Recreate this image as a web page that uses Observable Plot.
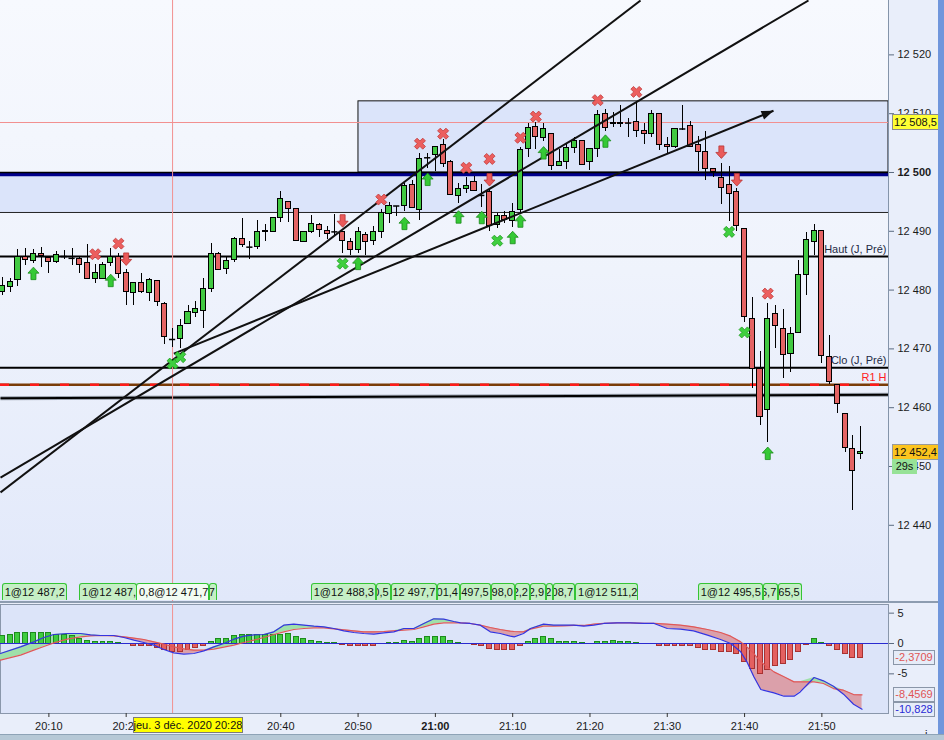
<!DOCTYPE html>
<html><head><meta charset="utf-8">
<script src="https://cdn.jsdelivr.net/npm/d3@7"></script>
<script src="https://cdn.jsdelivr.net/npm/@observablehq/plot@0.6"></script>
<style>
html,body{margin:0;padding:0;}
body{background:#e9eefa;font-family:"Liberation Sans",Arial,sans-serif;}
#root{position:relative;width:944px;height:740px;overflow:hidden;background:#e9eefa;}
#root svg{position:absolute;left:0;}
.tl{position:absolute;height:17px;box-sizing:border-box;border:1px solid #35c435;border-bottom:none;border-radius:3px 3px 0 0;background:#c5efc5;font-size:11px;line-height:16px;color:#111;overflow:hidden;white-space:nowrap;display:flex;padding:0 2px;}
.tl span{flex-shrink:0;}
.tl.tail{justify-content:flex-end;padding:0 1px;}
.tl.sel{background:#f2fcf2;}
.bx{position:absolute;box-sizing:border-box;font-size:11px;text-align:center;white-space:nowrap;overflow:hidden;}
</style></head>
<body><div id="root"></div>
<script>
// ---------------- DATA ----------------
const firstBarTime = "20:04"; // bar 0, one bar per minute
const candleOpen = [12479.6,12480.5,12481.8,12485.7,12484.9,12486.2,12485.5,12484.8,12485.7,12485.4,
 12485.3,12484.6,12481.9,12481.9,12484.6,12485.7,12482.9,12479.5,12481.2,12479.5,
 12481.5,12477.7,12471.6,12471.6,12474.3,12476.1,12476.5,12480.2,12486.2,12483.6,
 12485.2,12488.7,12487.3,12487.3,12490.1,12489.8,12492.3,12494.9,12493.8,12488.2,
 12489.9,12491.1,12490.1,12489.9,12489.9,12488.2,12486.9,12489.4,12488.4,12489.8,
 12493.0,12494.3,12494.3,12497.9,12493.7,12502.5,12503.0,12504.7,12501.7,12496.0,
 12497.2,12498.4,12496.1,12496.7,12491.1,12492.6,12491.8,12493.7,12504.0,12507.8,
 12505.9,12506.6,12501.1,12501.7,12504.2,12505.4,12501.7,12504.0,12510.0,12508.5,
 12508.5,12508.4,12508.6,12507.1,12506.6,12510.0,12504.7,12504.4,12507.4,12507.9,
 12504.7,12503.5,12500.6,12499.1,12497.9,12496.7,12490.4,12475.0,12466.6,12459.6,
 12476.0,12473.3,12469.2,12472.7,12482.6,12488.1,12490.0,12468.7,12463.9,12459.0,
 12453.0,12452.1];
const candleHigh = [12482.2,12481.9,12486.9,12487.0,12486.9,12487.2,12485.7,12486.6,12486.7,12487.0,
 12485.7,12487.8,12484.4,12484.7,12487.0,12486.2,12483.5,12481.2,12482.9,12482.0,
 12481.5,12477.9,12473.4,12475.0,12477.3,12478.1,12481.9,12488.0,12486.4,12485.5,
 12489.0,12492.1,12488.3,12491.8,12491.2,12492.3,12496.8,12494.9,12493.8,12489.9,
 12492.7,12491.3,12490.9,12492.8,12489.9,12488.7,12490.6,12489.8,12490.9,12493.7,
 12494.9,12494.3,12498.1,12498.6,12503.2,12503.2,12504.4,12505.6,12502.0,12498.1,
 12499.1,12499.3,12497.9,12497.2,12493.0,12493.4,12494.7,12504.2,12508.3,12508.5,
 12508.3,12506.6,12503.9,12504.9,12505.9,12505.4,12504.0,12510.6,12510.7,12510.2,
 12511.4,12509.1,12512.0,12508.3,12510.6,12510.0,12505.9,12507.4,12511.4,12508.6,
 12506.1,12506.9,12500.6,12501.5,12501.1,12497.2,12490.4,12478.7,12469.6,12477.7,
 12477.3,12476.7,12473.7,12485.0,12489.8,12491.2,12490.0,12472.2,12463.9,12459.0,
 12455.3,12456.8];
const candleLow = [12479.1,12479.6,12480.6,12484.2,12484.6,12483.9,12482.9,12484.5,12485.2,12484.2,
 12482.9,12481.9,12481.2,12481.8,12484.0,12481.9,12477.4,12477.3,12479.5,12478.1,
 12477.2,12470.8,12470.3,12470.0,12474.1,12475.4,12473.4,12479.6,12483.3,12482.7,
 12484.7,12487.2,12485.2,12486.9,12488.3,12489.8,12491.5,12491.5,12488.4,12488.2,
 12489.6,12489.0,12488.6,12489.3,12486.2,12485.8,12486.2,12485.9,12487.6,12488.7,
 12491.3,12492.6,12493.3,12494.0,12491.8,12500.6,12500.1,12500.8,12496.2,12494.7,
 12496.4,12496.9,12494.1,12489.9,12490.4,12491.3,12490.7,12493.0,12502.6,12503.9,
 12505.2,12500.3,12501.1,12500.5,12503.2,12501.3,12500.3,12502.6,12507.0,12507.6,
 12507.7,12506.0,12506.0,12504.7,12505.9,12503.7,12503.2,12504.0,12507.1,12504.2,
 12500.2,12498.6,12499.1,12494.5,12491.6,12489.9,12474.5,12463.2,12456.9,12454.0,
 12470.0,12464.9,12466.0,12472.7,12479.0,12485.9,12467.6,12463.9,12459.0,12452.4,
 12442.6,12451.2];
const candleClose = [12480.7,12481.4,12485.7,12485.2,12486.2,12485.8,12484.8,12485.9,12485.7,12485.4,
 12484.3,12481.9,12482.9,12484.3,12485.6,12482.7,12479.6,12481.2,12479.6,12481.8,
 12477.9,12472.0,12471.6,12473.9,12476.3,12476.7,12480.2,12486.2,12483.5,12485.0,
 12488.7,12487.7,12487.3,12489.8,12489.8,12492.3,12495.5,12493.8,12488.4,12489.9,
 12491.3,12490.3,12489.5,12489.9,12488.4,12486.9,12489.8,12488.2,12489.9,12493.1,
 12494.3,12494.3,12497.7,12494.0,12502.3,12502.5,12504.4,12501.5,12496.2,12497.2,
 12497.7,12496.9,12496.1,12490.9,12492.6,12492.0,12493.3,12503.9,12507.6,12506.1,
 12507.4,12501.1,12501.8,12504.2,12505.4,12501.3,12504.0,12509.8,12507.6,12508.2,
 12508.2,12508.4,12507.1,12506.6,12510.0,12504.7,12504.4,12507.4,12507.4,12504.4,
 12503.5,12500.6,12500.1,12497.4,12496.4,12490.9,12475.4,12466.6,12458.4,12475.1,
 12473.9,12469.0,12472.6,12482.6,12488.6,12490.0,12468.8,12464.3,12460.7,12453.2,
 12449.3,12452.4];

const xTickBars = [6,16,36,46,56,66,76,86,96,106];
const xTickLabels = ["20:10","20:20","20:40","20:50","21:00","21:10","21:20","21:30","21:40","21:50"];
const yTickValues = [12440,12450,12460,12470,12480,12490,12500,12510,12520];
const macdTickValues = [5,0,-5];

// levels (price)
const level12500 = 12500, bandBottom = 12493.2, boxTop = 12512.1, boxStartBar = 46.05;
const hautLevel = 12485.7, cloLevel = 12466.8, r1Level = 12463.9, lastClose = 12508.5;
const lowLineLeft = 12461.6, lowLineRight = 12462.2;
const levelLabels = ["Haut (J, Pré)", "Clo (J, Pré)", "R1 H"];
const levelLabelPrices = [12485.7, 12466.8, 12463.9];

// trend lines (bar, price) -> (bar, price)
const trendStartBar = [-0.26, -0.26, 22.16];
const trendStartPrice = [12445.6, 12448.1, 12469.2];
const trendEndBar = [82.54, 104.27, 99.74];
const trendEndPrice = [12529.25, 12529.25, 12510.5];

// signal markers
const redCrossBar = [12,15,49,54,57,60,63,67,69,77,82,99];
const redCrossPrice = [12486.1,12487.9,12495.4,12504.9,12506.6,12500.8,12502.3,12505.9,12509.5,12512.3,12513.7,12479.4];
const greenCrossBar = [22,23,44,64,94,96];
const greenCrossPrice = [12467.5,12468.6,12484.5,12488.4,12489.9,12472.8];
const upArrowBar = [4,14,46,52,55,59,62,66,67,70,78,99];
const upArrowPrice = [12482.8,12481.6,12484.5,12491.3,12498.8,12492.4,12492.3,12488.9,12491.7,12503.3,12505.3,12452.2];
const downArrowBar = [16,44,63,93,95];
const downArrowPrice = [12485.3,12491.8,12498.8,12503.5,12498.8];

// trade tags at bottom of price pane (visible part of each tag)
const tradeText = ["1@12 487,2","1@12 487,","0,8@12 471,7","7","1@12 488,3","0,5","12 497,7","01,4","497,5","98,0","2,2","2,9","2","08,7","1@12 511,2","1@12 495,5","6,7","65,5"];
const tradeStartBar = [-0.04,9.96,17.34,26.78,39.94,48.38,50.28,56.31,59.25,63.22,66.36,68.3,70.38,71.32,74.13,90.0,98.41,100.43];
const tradeEndBar = [8.37,17.43,26.78,27.81,48.38,50.28,56.31,59.25,63.22,66.36,68.3,70.38,71.32,74.13,82.32,98.41,100.43,103.46];
const tradeTail = [0,0,0,1,0,1,1,1,1,1,1,1,1,1,0,0,1,1];
const tradeSelected = 2;

// MACD histogram (one per bar)
const histValues = [1.2,1.37,1.76,1.81,1.81,1.81,1.65,1.48,1.37,1.21,
 0.71,0.44,0.33,0.33,0.33,0.16,-0.16,-0.33,-0.44,-0.44,
 -0.66,-0.99,-1.32,-1.37,-0.99,-0.82,-0.33,0.33,0.66,0.77,
 1.21,1.32,1.48,1.32,1.32,1.43,1.43,1.54,0.99,0.66,
 0.49,0.33,0.16,0.05,-0.22,-0.49,-0.33,-0.49,-0.33,-0.16,
 0.16,0.16,0.49,0.33,0.82,0.99,1.15,0.99,0.49,0.16,
 0,-0.22,-0.38,-0.88,-0.99,-1.15,-0.99,-0.33,0.33,0.71,
 0.99,0.66,0.33,0.33,0.33,0.16,0,0.33,0.33,0.49,
 0.33,0.33,0.16,0,0,-0.33,-0.44,-0.44,-0.44,-0.44,
 -0.66,-0.99,-1.15,-1.32,-1.48,-1.81,-3.02,-4.12,-5.05,-4.29,
 -3.74,-3.30,-2.64,-1.48,-0.22,0.82,0.16,-0.49,-1.15,-1.81,
 -2.31,-2.37];
// MACD & signal lines (bar position, value)
const macdBar = [-0.26,2.33,4.05,5.35,6.64,8.37,10.09,11.38,12.68,14.4,15.7,17.0,18.28,19.58,20.87,22.16,23.46,24.75,26.05,27.34,28.63,29.93,31.22,32.51,33.81,35.1,36.39,37.69,38.98,40.28,41.57,42.86,44.16,45.45,46.74,48.04,49.33,50.63,51.92,53.21,54.51,55.8,57.09,58.39,
 59.25,60.5,61.8,63.1,64.4,65.7,66.2,67.4,68.3,70.0,71.3,72.6,73.9,75.2,76.5,77.8,79.5,81.2,83.0,84.3,86.0,87.7,89.4,91.2,92.9,94.2,95.5,96.3,97.2,98.1,99.8,101.1,102.4,103.2,105.0,106.2,107.5,108.8,110.1,111.2];
const macdValue = [-1.65,-0.55,0.27,0.99,1.48,1.65,1.65,1.43,1.32,1.32,0.99,0.55,0.16,-0.27,-0.99,-1.54,-1.76,-1.65,-1.21,-0.55,0,0.71,1.21,1.43,1.48,1.92,3.02,3.19,3.02,2.86,2.75,2.47,2.09,1.81,1.65,1.54,1.76,1.92,2.47,2.47,3.30,4.07,4.01,3.63,
 3.41,3.30,3.02,1.92,1.65,1.21,1.10,1.65,2.47,3.19,3.02,3.02,3.02,2.86,3.02,3.30,3.41,3.41,3.30,3.30,2.47,2.36,2.09,1.37,0.66,0,-1.37,-3.02,-5.49,-7.58,-8.13,-8.68,-8.68,-7.97,-5.60,-6.15,-7.03,-8.35,-10.0,-10.828];
const signalValue = [-2.75,-1.92,-1.10,-0.49,0.11,0.71,1.10,1.26,1.32,1.26,1.10,0.88,0.66,0.27,-0.11,-0.55,-0.88,-1.10,-1.10,-0.93,-0.60,-0.27,0.16,0.55,0.99,1.48,1.92,2.31,2.47,2.58,2.58,2.42,2.25,2.09,1.92,1.92,1.98,2.09,2.20,2.31,2.75,3.19,3.41,3.41,
 3.41,3.30,3.02,2.64,2.31,2.03,1.98,1.92,2.36,2.86,2.86,2.91,2.97,2.97,3.19,3.30,3.41,3.41,3.30,3.30,3.19,3.02,2.75,2.31,1.81,1.21,0.27,-0.55,-1.65,-3.02,-4.67,-5.49,-6.32,-6.32,-6.32,-6.59,-7.42,-7.69,-8.41,-8.4569];
const macdLabels = [{v: -2.3709, t: "-2,3709", c: "#e05454"}, {v: -8.4569, t: "-8,4569", c: "#e05454"}, {v: -10.828, t: "-10,828", c: "#2a2ad6"}];

const crosshairBar = 22, crosshairLabelBar = 24, crosshairText = "jeu. 3 déc. 2020 20:28";
const currentPrice = 12452.4, countdownText = "29s";

// ---------------- CHART ----------------
const FONT = '"Liberation Sans", Arial, sans-serif';
const xLo = -0.26, xHi = 114.62, yLo = 12426.7, yHi = 12529.25, mLo = -11.53, mHi = 6.425;
const GREEN = "#41c941", RED = "#e46464";
const fmtPrice = d => { const s = d.toFixed(Number.isInteger(d) ? 0 : 1).replace(".", ","); return s.replace(/^(\d{2})(\d{3})/, "$1 $2"); };

const candles = candleOpen.map((o, i) => ({i, o, h: candleHigh[i], l: candleLow[i], c: candleClose[i]}));
const trend = trendStartBar.map((b, k) => ({i1: b, p1: trendStartPrice[k], i2: trendEndBar[k], p2: trendEndPrice[k]}));
const mk = (bars, prices) => bars.map((b, k) => ({i: b, p: prices[k]}));

function poly(pts) { return {draw(ctx) { pts.forEach(([x, y], k) => k ? ctx.lineTo(x, y) : ctx.moveTo(x, y)); ctx.closePath(); }}; }
const w = 1.9, L = 5.9;
const crossPts = [[-w,-L],[w,-L],[w,-w],[L,-w],[L,w],[w,w],[w,L],[-w,L],[-w,w],[-L,w],[-L,-w],[-w,-w]]
  .map(([x, y]) => [(x - y) * Math.SQRT1_2, (x + y) * Math.SQRT1_2]);
const crossSym = poly(crossPts);
const upPts = [[0,-6.5],[5.5,-0.5],[2.5,-0.5],[2.5,6],[-2.5,6],[-2.5,-0.5],[-5.5,-0.5]];
const upSym = poly(upPts);
const downSym = poly(upPts.map(([x, y]) => [x, -y]));
const headSym = poly([[0,0],[4.5,12],[-4.5,12]]);

// arrow head angle from the scale geometry
const pxBar = 888 / (xHi - xLo), pxPt = 603 / (yHi - yLo);
const last = trend[2];
const headAngle = Math.atan2((last.i2 - last.i1) * pxBar, (last.p2 - last.p1) * pxPt) * 180 / Math.PI;

const price = Plot.plot({
  width: 944, height: 603, marginLeft: 0, marginRight: 56, marginTop: 0, marginBottom: 0,
  x: {domain: [xLo, xHi], axis: null},
  y: {domain: [yLo, yHi], axis: null},
  style: {background: "transparent", fontFamily: FONT, fontSize: "11px", color: "#1a1a1a", overflow: "visible"},
  marks: [
    Plot.rect([0], {x1: () => xLo, x2: () => xHi, y1: () => bandBottom, y2: () => level12500, fill: "#dbe4fa"}),
    Plot.rect([0], {x1: () => boxStartBar, x2: () => xHi, y1: () => level12500, y2: () => boxTop, fill: "#dbe4fa", stroke: "#111", strokeWidth: 1}),
    Plot.ruleY([bandBottom], {stroke: "#222", strokeWidth: 1}),
    Plot.ruleY([lastClose], {stroke: "#f29090", strokeWidth: 1}),
    Plot.ruleY([hautLevel], {stroke: "#000", strokeWidth: 2}),
    Plot.ruleY([cloLevel], {stroke: "#000", strokeWidth: 2}),
    Plot.ruleY([r1Level], {stroke: "#7a3c08", strokeWidth: 2.5}),
    Plot.ruleY([r1Level], {stroke: "#ff1a1a", strokeWidth: 2.5, strokeDasharray: "9,21"}),
    Plot.link([0], {x1: () => xLo, y1: () => lowLineLeft, x2: () => xHi, y2: () => lowLineRight, stroke: "#9aa2ae", strokeWidth: 4}),
    Plot.link([0], {x1: () => xLo, y1: () => lowLineLeft, x2: () => xHi, y2: () => lowLineRight, stroke: "#000", strokeWidth: 2}),
    Plot.ruleY([level12500], {stroke: "#00008c", strokeWidth: 3.2, dy: 2.2}),
    Plot.ruleY([level12500], {stroke: "#000", strokeWidth: 1.4}),
    Plot.ruleX([crosshairBar], {stroke: "#f29090", strokeWidth: 1}),
    Plot.ruleX(candles, {x: "i", y1: "l", y2: "h", stroke: "#000", strokeWidth: 1, shapeRendering: "crispEdges"}),
    Plot.rect(candles.filter(d => d.o !== d.c), {x1: d => d.i - 0.33, x2: d => d.i + 0.33, y1: "o", y2: "c",
      fill: d => d.c > d.o ? GREEN : RED, stroke: "#000", strokeWidth: 1, shapeRendering: "crispEdges"}),
    Plot.ruleY(candles.filter(d => d.o === d.c), {y: "o", x1: d => d.i - 0.4, x2: d => d.i + 0.4, stroke: "#000", strokeWidth: 1.5}),
    Plot.link(trend, {x1: "i1", y1: "p1", x2: "i2", y2: "p2", stroke: "#111", strokeWidth: 2, clip: true}),
    Plot.dot([last], {x: "i2", y: "p2", symbol: headSym, r: 6, fill: "#111", stroke: "none", rotate: headAngle}),
    Plot.dot(mk(redCrossBar, redCrossPrice), {x: "i", y: "p", symbol: crossSym, r: 6, fill: "#ec5e5e", stroke: "#c03838", strokeWidth: 0.8}),
    Plot.dot(mk(greenCrossBar, greenCrossPrice), {x: "i", y: "p", symbol: crossSym, r: 6, fill: "#3fcf3f", stroke: "#1e9a1e", strokeWidth: 0.8}),
    Plot.dot(mk(upArrowBar, upArrowPrice), {x: "i", y: "p", symbol: upSym, r: 6, fill: "#35c935", stroke: "#1a8a1a", strokeWidth: 0.8}),
    Plot.dot(mk(downArrowBar, downArrowPrice), {x: "i", y: "p", symbol: downSym, r: 6, fill: "#ea5a5a", stroke: "#b83232", strokeWidth: 0.8}),
    Plot.text(levelLabels.map((t, k) => ({t, p: levelLabelPrices[k]})), {x: () => xHi, y: "p", text: "t", textAnchor: "end", dx: -2, dy: -7,
      fill: d => d.t === "R1 H" ? "#ff2020" : "#1e2a44", fontSize: 11}),
    Plot.ruleX([0], {x: () => xHi, stroke: "#8494aa", strokeWidth: 1}),
    Plot.axisY({anchor: "right", ticks: yTickValues, tickFormat: fmtPrice, tickSize: 5, tickPadding: 4, fontSize: 11, stroke: "#5a6a80"})
  ]
});
price.style.top = "0px";

const histData = histValues.map((v, i) => ({i, v})).filter(d => d.v !== 0);
const macdData = macdBar.map((b, k) => ({i: b, m: macdValue[k], s: signalValue[k]}));
const tickLabelOf = new Map(xTickBars.map((b, k) => [b, xTickLabels[k]]));

const macd = Plot.plot({
  width: 944, height: 137, marginLeft: 0, marginRight: 56, marginTop: 1, marginBottom: 27,
  x: {domain: [xLo, xHi], axis: null},
  y: {domain: [mLo, mHi], axis: null},
  style: {background: "transparent", fontFamily: FONT, fontSize: "11px", color: "#1a1a1a", overflow: "visible"},
  marks: [
    Plot.frame({fill: "#dce4f9", stroke: "#8a97ab"}),
    Plot.areaY(macdData, {x: "i", y1: "s", y2: d => Math.max(d.m, d.s), fill: "#9fe0aa"}),
    Plot.areaY(macdData, {x: "i", y1: d => Math.min(d.m, d.s), y2: "s", fill: "#dba0aa"}),
    Plot.ruleX([crosshairBar], {stroke: "#f29090", strokeWidth: 1}),
    Plot.rect(histData, {x1: d => d.i - 0.32, x2: d => d.i + 0.32, y1: () => 0, y2: "v",
      fill: d => d.v > 0 ? "#3fcc3f" : "#e46060", stroke: d => d.v > 0 ? "#1d8a1d" : "#a83232", strokeWidth: 1, shapeRendering: "crispEdges"}),
    Plot.ruleY([0], {stroke: "#2a2ad0", strokeWidth: 1}),
    Plot.line(macdData, {x: "i", y: "s", stroke: "#e05858", strokeWidth: 1.2}),
    Plot.line(macdData, {x: "i", y: "m", stroke: "#3434e0", strokeWidth: 1.2}),
    Plot.axisY({anchor: "right", ticks: macdTickValues, tickFormat: d => String(d), tickSize: 5, tickPadding: 4, fontSize: 11, stroke: "#5a6a80"}),
    Plot.axisX({anchor: "bottom", ticks: xTickBars, tickFormat: d => tickLabelOf.get(d), tickSize: 4, tickPadding: 5, fontSize: 11, stroke: "#333"})
  ]
});
macd.style.top = "603px";

const root = document.getElementById("root");
const bg = document.createElement("div");
bg.style.cssText = "position:absolute;left:0;top:0;width:888px;height:601px;background:linear-gradient(to bottom,#f7f9fe 0%,#eff3fc 45%,#e1e8fa 100%);";
root.appendChild(bg);
root.appendChild(price);
root.appendChild(macd);

for (const svg of [price, macd]) {
  d3.select(svg).selectAll("text").each(function () {
    if (this.textContent === "12 500" || this.textContent === "21:00") this.setAttribute("font-weight", "bold");
  });
}

const ap = (s, v) => s.apply ? s.apply(v) : s.range[0] + (v - s.domain[0]) / (s.domain[1] - s.domain[0]) * (s.range[1] - s.range[0]);
const xs = price.scale("x"), ys = price.scale("y"), ms = macd.scale("y");
function box(css, html) { const d = document.createElement("div"); d.className = "bx"; d.style.cssText = css; d.innerHTML = html; root.appendChild(d); return d; }

// separator between panes
box("left:0;top:601px;width:938px;height:2px;background:#8d9cb0;", "");

// trade tags
tradeText.forEach((t, k) => {
  const d = document.createElement("div");
  d.className = "tl" + (tradeTail[k] ? " tail" : "") + (k === tradeSelected ? " sel" : "");
  const l = ap(xs, tradeStartBar[k]), r = ap(xs, tradeEndBar[k]);
  d.style.left = l + "px"; d.style.width = (r - l) + "px"; d.style.top = "583px";
  d.style.zIndex = k === tradeSelected ? 3 : 2;
  d.innerHTML = "<span>" + t + "</span>";
  root.appendChild(d);
});

// price axis tags
const yLast = ap(ys, lastClose);
box(`left:892px;top:${yLast - 8}px;width:47px;height:16px;line-height:14px;background:#ffff33;border:1px solid #8c8c8c;color:#111;`, fmtPrice(lastClose));
const yCur = ap(ys, currentPrice);
box(`left:892px;top:${yCur - 8}px;width:47px;height:16px;line-height:14px;background:#fcc41e;border:1px solid #999;color:#111;`, fmtPrice(currentPrice));
box(`left:892px;top:${yCur + 7}px;width:25px;height:15px;line-height:15px;background:#97e297;color:#111;`, countdownText);

// MACD value tags
macdLabels.forEach(m => {
  const y = 603 + ap(ms, m.v);
  box(`left:893px;top:${y - 7}px;width:42px;height:15px;line-height:13px;background:#e6ecf8;border:1px solid #8a96a8;color:${m.c};`, m.t);
});

// crosshair date tag
const xc = ap(xs, crosshairLabelBar);
box(`left:${xc - 55}px;top:717px;width:110px;height:16px;line-height:14px;background:#ffff00;border:1px solid #7b7b7b;color:#111;`, crosshairText);

// scroll stripe and bottom bar
box("left:938px;top:0;width:6px;height:734px;background:#7096dc;", "");
box("left:0;top:734px;width:944px;height:6px;background:#b6c8d6;border-top:1px solid #8ea3b6;", "");
</script></body></html>
